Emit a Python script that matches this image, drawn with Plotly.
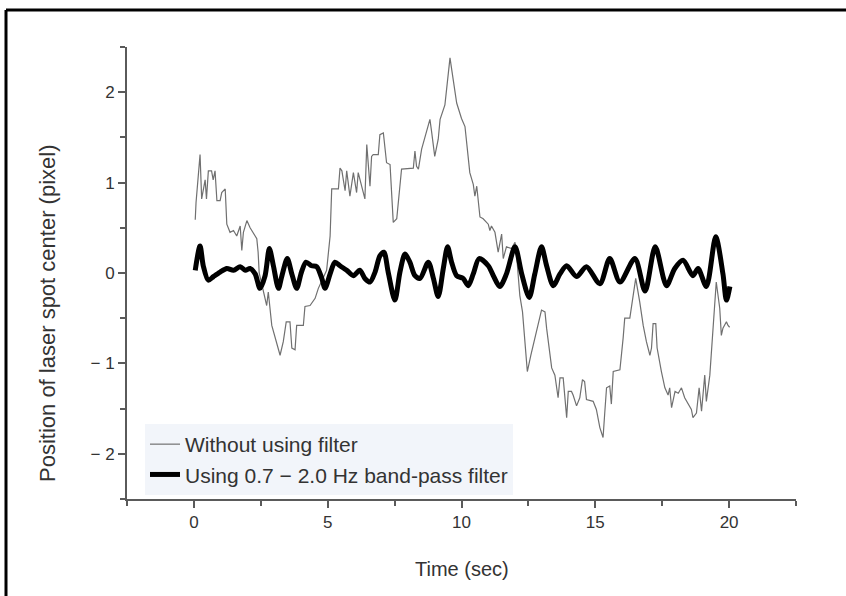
import plotly.graph_objects as go

# Raw signal (without filter)
raw_t = [0.05, 0.08, 0.23, 0.29, 0.42, 0.47, 0.54, 0.66, 0.72, 0.79, 0.86, 0.98, 1.04, 1.17, 1.23, 1.35,
         1.48, 1.60, 1.73, 1.79, 1.85, 1.98, 2.10, 2.21, 2.35, 2.40, 2.44, 2.72, 2.78, 2.91, 3.03, 3.22,
         3.34, 3.45, 3.59, 3.66, 3.78, 3.84, 4.09, 4.15, 4.34, 4.53, 4.65, 4.78, 4.96, 5.09, 5.15, 5.40,
         5.46, 5.53, 5.65, 5.71, 5.77, 5.83, 5.96, 6.08, 6.14, 6.27, 6.39, 6.46, 6.58, 6.64, 6.70, 6.89,
         6.95, 7.08, 7.20, 7.33, 7.45, 7.58, 7.70, 7.76, 8.20, 8.26, 8.32, 8.39, 8.51, 8.70, 8.76, 8.82,
         8.88, 9.00, 9.13, 9.20, 9.38, 9.44, 9.57, 9.69, 9.82, 10.00, 10.13, 10.31, 10.44, 10.50, 10.57,
         10.69, 10.81, 11.00, 11.06, 11.12, 11.25, 11.37, 11.50, 11.56, 11.68, 11.87, 12.00, 12.06, 12.18,
         12.28, 12.46, 12.59, 12.74, 12.99, 13.12, 13.18, 13.37, 13.49, 13.61, 13.68, 13.80, 13.86, 13.93,
         13.99, 14.11, 14.17, 14.30, 14.42, 14.52, 14.60, 14.67, 14.92, 15.04, 15.17, 15.29, 15.35, 15.42,
         15.54, 15.60, 15.67, 15.92, 16.04, 16.10, 16.29, 16.41, 16.51, 16.66, 16.79, 16.91, 17.04, 17.10,
         17.16, 17.26, 17.31, 17.47, 17.60, 17.72, 17.78, 17.85, 17.98, 18.10, 18.22, 18.34, 18.47, 18.59,
         18.65, 18.78, 18.88, 18.97, 19.09, 19.15, 19.28, 19.34, 19.46, 19.52, 19.65, 19.71, 19.77, 19.84,
         19.90, 19.96, 20.02]
raw_v = [0.59, 0.78, 1.31, 0.82, 1.03, 0.82, 1.13, 1.13, 1.03, 1.13, 0.80, 0.80, 0.89, 0.93, 0.54, 0.45,
         0.47, 0.41, 0.52, 0.25, 0.45, 0.58, 0.50, 0.45, 0.38, 0.23, 0.00, -0.36, -0.21, -0.58, -0.72, -0.91,
         -0.76, -0.54, -0.54, -0.83, -0.85, -0.58, -0.58, -0.37, -0.36, -0.28, -0.17, -0.08, 0.03, 0.41, 0.93, 0.93,
         1.16, 1.13, 0.91, 1.13, 1.00, 0.85, 1.11, 0.89, 1.11, 0.96, 0.82, 1.42, 0.96, 1.29, 1.31, 1.31,
         1.53, 1.55, 1.22, 1.20, 0.56, 0.60, 0.94, 1.15, 1.16, 1.35, 1.18, 1.15, 1.37, 1.59, 1.64, 1.70,
         1.57, 1.29, 1.48, 1.70, 1.86, 2.03, 2.38, 2.14, 1.88, 1.71, 1.62, 1.11, 0.98, 0.85, 0.96,
         0.62, 0.60, 0.54, 0.47, 0.52, 0.45, 0.23, 0.43, 0.16, 0.29, 0.27, 0.34, 0.19, -0.25,
         -0.43, -1.09, -0.91, -0.72, -0.41, -0.43, -0.61, -1.05, -1.13, -1.38, -1.16, -1.16, -1.38, -1.60,
         -1.31, -1.31, -1.35, -1.47, -1.38, -1.18, -1.20, -1.40, -1.42, -1.51, -1.71, -1.82, -1.56, -1.27,
         -1.25, -1.45, -1.09, -1.07, -0.72, -0.50, -0.50, -0.25, -0.06, -0.32, -0.58, -0.76, -0.91, -0.83,
         -0.56, -0.56, -0.83, -1.09, -1.27, -1.35, -1.27, -1.49, -1.31, -1.33, -1.27, -1.38, -1.45, -1.51,
         -1.60, -1.55, -1.27, -1.53, -1.13, -1.42, -1.13, -0.87, -0.36, -0.10, -0.39, -0.69, -0.61, -0.58,
         -0.54, -0.58, -0.60]

# Band-pass filtered signal
filt_t = [0.05, 0.23, 0.35, 0.54, 0.73, 0.98, 1.23, 1.48, 1.73, 1.92, 2.10, 2.29, 2.47, 2.66, 2.82, 2.97,
          3.16, 3.29, 3.49, 3.66, 3.84, 4.02, 4.19, 4.40, 4.59, 4.78, 4.90, 5.09, 5.27, 5.46, 5.71, 5.96,
          6.20, 6.39, 6.58, 6.77, 6.95, 7.10, 7.26, 7.51, 7.70, 7.89, 8.07, 8.26, 8.45, 8.76, 8.95, 9.13,
          9.32, 9.48, 9.63, 9.82, 10.06, 10.25, 10.44, 10.66, 11.00, 11.19, 11.43, 11.68, 12.00, 12.25,
          12.53, 12.74, 12.99, 13.18, 13.43, 13.68, 13.93, 14.30, 14.67, 15.17, 15.54, 15.92, 16.48, 16.86,
          17.24, 17.66, 17.97, 18.28, 18.65, 18.84, 19.15, 19.50, 19.77, 19.90, 20.03]
filt_v = [0.03, 0.30, 0.08, -0.08, -0.04, 0.01, 0.05, 0.03, 0.07, 0.03, 0.05, -0.01, -0.17, -0.03, 0.27, 0.08,
          -0.17, -0.03, 0.16, -0.01, -0.17, 0.01, 0.12, 0.08, 0.07, -0.06, -0.17, -0.01, 0.12, 0.08, 0.03, -0.03,
          0.03, -0.06, -0.10, 0.01, 0.19, 0.23, 0.01, -0.30, 0.01, 0.21, 0.12, -0.03, -0.06, 0.12, -0.06, -0.26,
          0.05, 0.29, 0.12, -0.03, -0.06, -0.14, -0.01, 0.16, 0.08, -0.03, -0.15, -0.01, 0.29, -0.01,
          -0.27, -0.01, 0.29, 0.08, -0.14, -0.01, 0.08, -0.04, 0.07, -0.12, 0.16, -0.10, 0.16, -0.20,
          0.29, -0.14, 0.05, 0.14, -0.03, 0.05, -0.15, 0.40, -0.01, -0.30, -0.15]

x_tick_vals = [0, 5, 10, 15, 20]
x_tick_text = ["0", "5", "10", "15", "20"]
x_minor_vals = [-2.5, 2.5, 7.5, 12.5, 17.5, 22.5]
y_tick_vals = [-2, -1, 0, 1, 2]
y_tick_text = ["\u2212 2", "\u2212 1", "0", "1", "2"]
y_minor_vals = [-2.5, -1.5, -0.5, 0.5, 1.5, 2.5]

W, H = 846, 596
L, R, T, B = 127, 50, 47, 97
pw, ph = W - L - R, H - T - B

def px(xpix):
    return (xpix - L) / pw

def py(ypix):
    return (H - B - ypix) / ph

FONT = "Liberation Sans, Arial, sans-serif"
AXC = "#5a5a5a"
TXC = "#333333"

fig = go.Figure()
fig.add_trace(go.Scatter(x=raw_t, y=raw_v, mode="lines", name="Without using filter",
                         line=dict(color="#707070", width=1.2)))
fig.add_trace(go.Scatter(x=filt_t, y=filt_v, mode="lines", name="Using 0.7 \u2212 2.0 Hz band-pass filter",
                         line=dict(color="#000000", width=5, shape="spline", smoothing=0.8)))

axis_common = dict(showgrid=False, zeroline=False, showline=True, linecolor=AXC, linewidth=2,
                   ticks="outside", ticklen=7, tickwidth=1.5, tickcolor=AXC,
                   tickfont=dict(family=FONT, size=17, color=TXC), mirror=False)

fig.update_xaxes(range=[-2.5, 22.5], tickmode="array", tickvals=x_tick_vals, ticktext=x_tick_text,
                 minor=dict(tickmode="array", tickvals=x_minor_vals, ticks="outside", ticklen=5,
                            tickwidth=1.5, tickcolor=AXC),
                 **axis_common)
fig.update_yaxes(range=[-2.5, 2.5], tickmode="array", tickvals=y_tick_vals, ticktext=y_tick_text,
                 minor=dict(tickmode="array", tickvals=y_minor_vals, ticks="outside", ticklen=5,
                            tickwidth=1.5, tickcolor=AXC),
                 **axis_common)

fig.update_layout(
    width=W, height=H,
    margin=dict(l=L, r=R, t=T, b=B, pad=0),
    paper_bgcolor="white", plot_bgcolor="white",
    showlegend=True,
    legend=dict(x=px(145), y=py(424), xanchor="left", yanchor="top",
                bgcolor="rgba(238,241,248,0.75)", borderwidth=0,
                font=dict(family=FONT, size=21, color=TXC), tracegroupgap=0,
                itemwidth=30),
    annotations=[
        dict(text="Time (sec)", x=px(462), y=py(569), xref="paper", yref="paper",
             showarrow=False, font=dict(family=FONT, size=20, color=TXC),
             xanchor="center", yanchor="middle"),
        dict(text="Position of laser spot center (pixel)", x=px(47), y=py(313), xref="paper", yref="paper",
             showarrow=False, textangle=-90, font=dict(family=FONT, size=22, color=TXC),
             xanchor="center", yanchor="middle"),
    ],
    shapes=[
        dict(type="line", xref="paper", yref="paper", x0=px(6), x1=px(846), y0=py(10), y1=py(10),
             line=dict(color="black", width=3)),
        dict(type="line", xref="paper", yref="paper", x0=px(6), x1=px(6), y0=py(10), y1=py(600),
             line=dict(color="black", width=3)),
    ],
)

fig.write_html("out.html")
